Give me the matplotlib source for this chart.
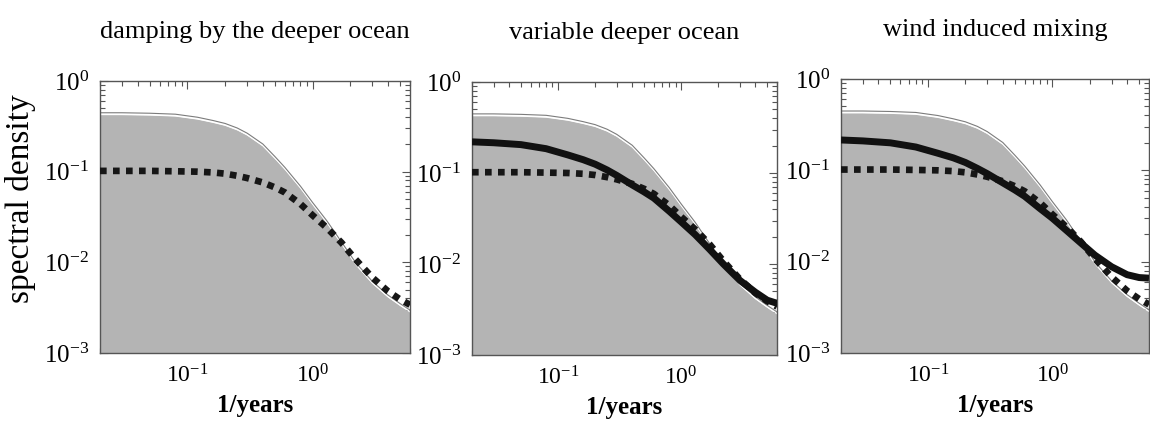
import matplotlib
matplotlib.use("Agg")
import matplotlib.pyplot as plt
import matplotlib.transforms as mtransforms
from matplotlib.ticker import LogLocator, NullFormatter

plt.rcParams['font.family'] = ['Liberation Serif', 'DejaVu Serif']
plt.rcParams['mathtext.fontset'] = 'custom'
plt.rcParams['mathtext.rm'] = 'Liberation Serif'
plt.rcParams['mathtext.it'] = 'Liberation Serif:italic'
plt.rcParams['mathtext.bf'] = 'Liberation Serif:bold'

freq = [0.02, 0.03, 0.05, 0.08, 0.12, 0.16, 0.2, 0.25, 0.3, 0.4, 0.5,
        0.6, 0.8, 1.0, 1.3, 1.7, 2.2, 3.0, 4.0, 5.0, 6.0]

# grey reference spectrum (same in every panel)
reference = [0.42, 0.42, 0.415, 0.405, 0.375, 0.345, 0.32, 0.285, 0.25, 0.19, 0.138,
             0.105, 0.065, 0.043, 0.027, 0.0158, 0.0094, 0.0058, 0.0041, 0.0033, 0.0028]

# dashed: damping by the deeper ocean (same in every panel)
damped = [0.102, 0.102, 0.102, 0.101, 0.100, 0.098, 0.095, 0.090, 0.085, 0.076, 0.067,
          0.059, 0.044, 0.033, 0.024, 0.0165, 0.0108, 0.0068, 0.0048, 0.0039, 0.0034]

# solid lines
variable_deep = [0.22, 0.215, 0.205, 0.185, 0.158, 0.14, 0.125, 0.108, 0.094, 0.074, 0.062,
                 0.053, 0.038, 0.029, 0.021, 0.0145, 0.0100, 0.0066, 0.0049, 0.0040, 0.0037]
wind_mixing = [0.215, 0.21, 0.2, 0.18, 0.154, 0.137, 0.122, 0.105, 0.092, 0.073, 0.061,
               0.052, 0.038, 0.030, 0.022, 0.0160, 0.0118, 0.0088, 0.0072, 0.0067, 0.0066]

titles = ['damping by the deeper ocean', 'variable deeper ocean', 'wind induced mixing']
solids = [None, variable_deep, wind_mixing]

# axes boxes in pixels: left, top, right, bottom
boxes = [(100, 81, 410, 353), (472, 82, 777, 355), (841, 79, 1149, 353)]

W, H = 1150, 423
fig = plt.figure(figsize=(W / 100, H / 100), dpi=100)

for i, (l, t, r, b) in enumerate(boxes):
    ax = fig.add_axes([l / W, (H - b) / H, (r - l) / W, (b - t) / H])
    ax.set_xscale('log')
    ax.set_yscale('log')
    ax.set_xlim(0.02, 6)
    ax.set_ylim(1e-3, 1)
    ax.set_axisbelow(True)

    ax.fill_between(freq, 1e-3, reference, facecolor='#b4b4b4', edgecolor='none', zorder=1)
    # thin outline with a white gap above the grey area
    gap_tr = mtransforms.offset_copy(ax.transData, fig=fig, x=0, y=1.0, units='dots')
    edge_tr = mtransforms.offset_copy(ax.transData, fig=fig, x=0, y=2.4, units='dots')
    ax.plot(freq, reference, color='white', lw=1.0, transform=gap_tr, zorder=1.2)
    ax.plot(freq, reference, color='#7c7c7c', lw=0.8, transform=edge_tr, zorder=1.3)

    ax.plot(freq, damped, color='#161616', lw=4.8, dashes=(1, 0.95),
            dash_capstyle='butt', zorder=3)
    if solids[i] is not None:
        ax.plot(freq, solids[i], color='#111111', lw=5.0, solid_capstyle='butt', zorder=4)

    ax.xaxis.set_major_locator(LogLocator(base=10))
    ax.xaxis.set_minor_locator(LogLocator(base=10, subs=range(2, 10)))
    ax.yaxis.set_minor_locator(LogLocator(base=10, subs=range(2, 10)))
    ax.xaxis.set_minor_formatter(NullFormatter())
    ax.yaxis.set_minor_formatter(NullFormatter())
    ax.tick_params(which='both', direction='in', top=True, right=True,
                   color='#555555', width=0.8)
    ax.tick_params(which='major', length=6)
    ax.tick_params(which='minor', length=3.5)
    ax.tick_params(axis='y', which='major', labelsize=18, pad=8)
    ax.tick_params(axis='x', which='major', labelsize=17, pad=8)
    for s in ax.spines.values():
        s.set_color('#555555')
        s.set_linewidth(1.0)

    ax.set_title(titles[i], fontsize=19, pad=31)
    ax.set_xlabel('1/years', fontsize=18, fontweight='bold', labelpad=5)
    if i == 0:
        ax.set_ylabel('spectral density', fontsize=24)
        ax.yaxis.set_label_coords(-0.205, 0.566)

fig.savefig('out.png', dpi=100)
